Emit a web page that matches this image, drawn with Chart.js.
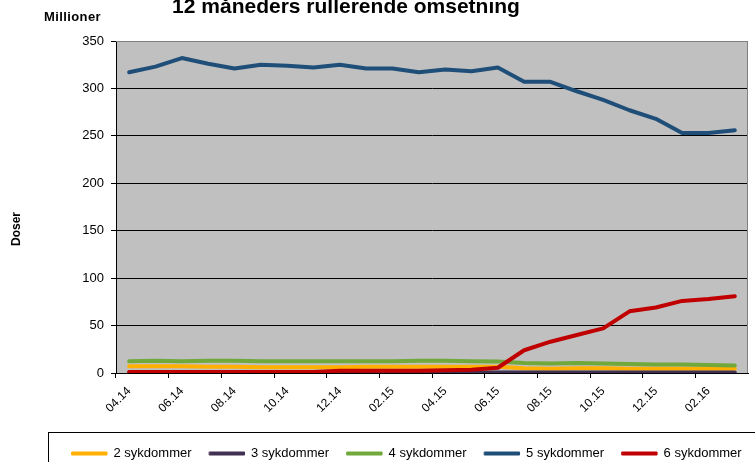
<!DOCTYPE html>
<html>
<head>
<meta charset="utf-8">
<script src="https://cdn.jsdelivr.net/npm/chart.js@4"></script>
<style>
  html, body { margin: 0; padding: 0; background: #fff; overflow: hidden; }
  #wrap { width: 775px; height: 470px; position: relative; }
</style>
</head>
<body>
<div id="wrap"><canvas id="chart"></canvas></div>
<script>
const FONT = "Arial, 'Liberation Sans', sans-serif";

// Data ---

const months = [
  "04.14", "05.14", "06.14", "07.14", "08.14", "09.14", "10.14", "11.14",
  "12.14", "01.15", "02.15", "03.15", "04.15", "05.15", "06.15", "07.15",
  "08.15", "09.15", "10.15", "11.15", "12.15", "01.16", "02.16", "03.16",
];

const seriesNames = ["2 sykdommer", "3 sykdommer", "4 sykdommer", "5 sykdommer", "6 sykdommer"];

const sykdommer2 = [7, 7, 7, 6.5, 6.5, 6, 6, 6, 6, 6.5, 6.5, 6.5, 6.5, 6.5, 6.5, 5, 4.5, 5, 5, 4.5, 4.5, 4.5, 4.5, 4.5];
const sykdommer3 = [0.5, 0.5, 0.5, 0.5, 0.5, 0.5, 0.5, 0.5, 0.5, 0.5, 0.5, 0.5, 0.5, 0.5, 0.5, 0.5, 0.5, 0.5, 0.5, 0.5, 0.5, 0.5, 0.5, 0.5];
const sykdommer4 = [12.5, 13, 12.5, 13, 13, 12.5, 12.5, 12.5, 12.5, 12.5, 12.5, 13, 13, 12.5, 12, 10.5, 10, 10.5, 10, 9.5, 9, 9, 8.5, 8];
const sykdommer5 = [317, 323, 332, 326, 321, 325, 324, 322, 325, 321, 321, 317, 320, 318, 322, 307, 307, 297, 288, 277, 268, 253, 253, 256];
const sykdommer6 = [1, 1, 1, 1, 1, 1, 1, 1, 2.5, 2.5, 2.5, 2.5, 3, 3.5, 5.5, 24, 33, 40, 47, 65, 69, 76, 78, 81];

const colors = ["#ffb000", "#403152", "#70a83b", "#1f4e79", "#c00000"];

// Decorations ---

const frame = {
  id: "frame",
  beforeDraw(chart) {
    const { ctx, chartArea: a } = chart;
    ctx.save();
    ctx.fillStyle = "#c0c0c0";
    ctx.fillRect(a.left, a.top, a.width, a.height);
    ctx.restore();
  },
  beforeDatasetsDraw(chart) {
    const { ctx, chartArea: a } = chart;
    ctx.save();
    ctx.strokeStyle = "#808080";
    ctx.lineWidth = 1;
    ctx.beginPath();
    ctx.moveTo(a.left, a.top + 0.5);
    ctx.lineTo(a.right - 0.5, a.top + 0.5);
    ctx.lineTo(a.right - 0.5, a.bottom);
    ctx.stroke();
    ctx.restore();
  },
  afterDraw(chart) {
    const ctx = chart.ctx;
    ctx.save();
    ctx.fillStyle = "#000";
    ctx.textBaseline = "alphabetic";

    ctx.font = "bold 21px " + FONT;
    ctx.textAlign = "center";
    ctx.fillText("12 måneders rullerende omsetning", 346, 13);

    ctx.font = "bold 13px " + FONT;
    ctx.textAlign = "left";
    ctx.letterSpacing = "0.4px";
    ctx.fillText("Millioner", 44, 21);
    ctx.letterSpacing = "0px";

    ctx.font = "bold 12px " + FONT;
    ctx.textAlign = "center";
    ctx.translate(20, 229);
    ctx.rotate(-Math.PI / 2);
    ctx.fillText("Doser", 0, 0);
    ctx.restore();

    // legend frame
    const lg = chart.legend;
    ctx.save();
    ctx.strokeStyle = "#000";
    ctx.lineWidth = 1;
    ctx.strokeRect(48.5, lg.top + 3.5, 800, 60);
    ctx.restore();
  },
};

// Chart ---

const datasets = seriesNames.map((name, i) => ({
  label: name,
  data: [sykdommer2, sykdommer3, sykdommer4, sykdommer5, sykdommer6][i],
  borderColor: colors[i],
  backgroundColor: colors[i],
  borderWidth: 4,
  pointRadius: 0,
  tension: 0,
  borderCapStyle: "round",
  borderJoinStyle: "round",
  order: 4 - i,
}));

new Chart(document.getElementById("chart"), {
  type: "line",
  data: { labels: months, datasets: datasets },
  plugins: [frame],
  options: {
    animation: false,
    responsive: true,
    maintainAspectRatio: false,
    layout: { padding: { left: 54, right: 0, top: 41, bottom: 0 } },
    plugins: {
      title: { display: false },
      tooltip: { enabled: false },
      legend: {
        position: "bottom",
        align: "start",
        labels: {
          boxWidth: 35,
          boxHeight: 3,
          padding: 18,
          color: "#000",
          font: { family: FONT, size: 13 },
          generateLabels: (chart) =>
            Chart.defaults.plugins.legend.labels.generateLabels(chart).map((l) => ({ ...l, lineWidth: 1 })),
          sort: (a, b) => a.datasetIndex - b.datasetIndex,
        },
      },
    },
    scales: {
      x: {
        offset: true,
        afterFit: (scale) => { scale.height = 56; },
        grid: {
          offset: true,
          drawOnChartArea: false,
          tickLength: 5,
          tickColor: (c) => (c.index % 2 === 0 ? "#000" : "rgba(0,0,0,0)"),
        },
        border: { color: "#000", width: 1 },
        ticks: {
          autoSkip: false,
          maxRotation: 45,
          minRotation: 45,
          padding: 6,
          color: "#000",
          font: { family: FONT, size: 12 },
          callback: function (val, index) {
            return index % 2 === 0 ? this.getLabelForValue(val) : "";
          },
        },
      },
      y: {
        min: 0,
        max: 350,
        afterFit: (scale) => { scale.width = 62; },
        grid: {
          color: (c) => (c.tick && c.tick.value === 350 ? "#808080" : "#000"),
          lineWidth: 1,
          tickLength: 5,
          tickColor: "#000",
        },
        border: { color: "#000", width: 1 },
        ticks: {
          stepSize: 50,
          padding: 7,
          color: "#000",
          font: { family: FONT, size: 13 },
        },
      },
      // empty right margin (the page is cropped at 755px)
      spacer: {
        position: "right",
        min: 0,
        max: 1,
        afterFit: (scale) => { scale.width = 27; },
        grid: { display: false },
        border: { display: false },
        ticks: { display: false },
      },
    },
  },
});
</script>
</body>
</html>
